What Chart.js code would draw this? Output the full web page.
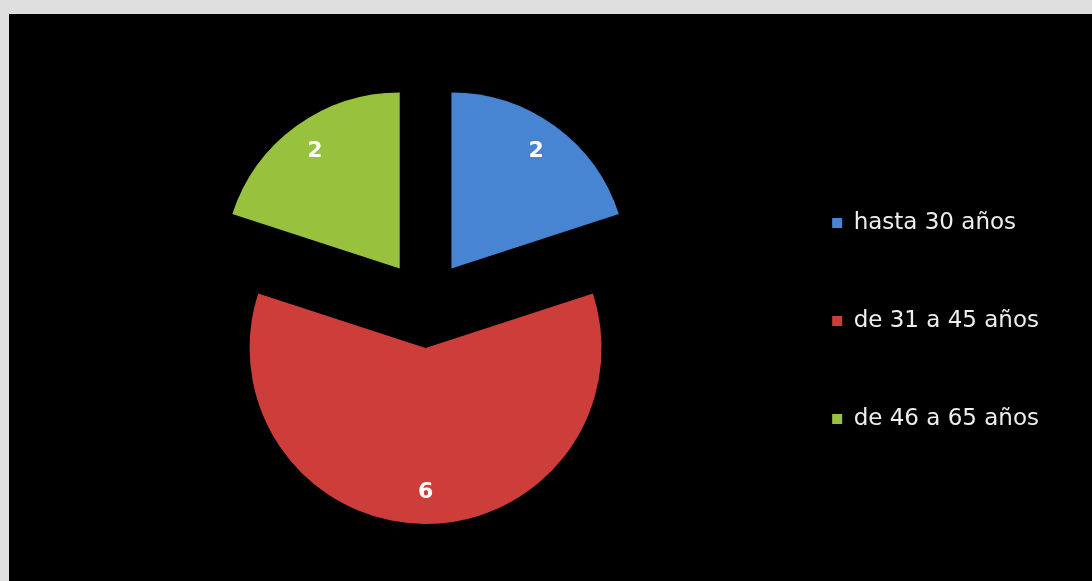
<!DOCTYPE html>
<html>
<head>
<meta charset="utf-8">
<title>Edades</title>
<script src="https://cdn.jsdelivr.net/npm/chart.js@4.4.1/dist/chart.umd.min.js"></script>
<style>
  body {
    margin: 0;
    background: #dedede;
  }
  #frame {
    position: absolute;
    left: 9px;
    top: 14px;
    width: 1083px;
    height: 567px;
    background: #000;
  }
</style>
</head>
<body>
<div id="frame">
  <canvas id="myChart" width="1083" height="567"></canvas>
</div>
<script>
// age groups and how many people fall in each
const categories = ['hasta 30 años', 'de 31 a 45 años', 'de 46 a 65 años'];
const counts = [2, 6, 2];
const sliceColors = ['#4784d2', '#cd3e3a', '#98c23e'];

// how far every slice is pulled away from the middle (px)
const explode = 44;

// draws the slices pushed out along their middle angle
const explodePlugin = {
  id: 'explode',
  beforeDatasetDraw: function(chart, args) {
    const ctx = chart.ctx;
    args.meta.data.forEach(function(arc) {
      const mid = (arc.startAngle + arc.endAngle) / 2;
      ctx.save();
      ctx.translate(Math.cos(mid) * explode, Math.sin(mid) * explode);
      arc.draw(ctx);
      ctx.restore();
    });
    return false;
  }
};

// value labels inside each slice
const valueLabels = {
  id: 'valueLabels',
  afterDatasetsDraw: function(chart) {
    const ctx = chart.ctx;
    const meta = chart.getDatasetMeta(0);
    ctx.save();
    ctx.font = 'bold 22px "DejaVu Sans"';
    ctx.fillStyle = '#ffffff';
    ctx.textAlign = 'center';
    ctx.textBaseline = 'middle';
    meta.data.forEach(function(arc, i) {
      const mid = (arc.startAngle + arc.endAngle) / 2;
      const dist = explode + arc.outerRadius * 0.82;
      ctx.fillText(String(counts[i]), arc.x + Math.cos(mid) * dist, arc.y + Math.sin(mid) * dist);
    });
    ctx.restore();
  }
};

const ctx = document.getElementById('myChart').getContext('2d');
const myChart = new Chart(ctx, {
  type: 'pie',
  data: {
    labels: categories,
    datasets: [{
      data: counts,
      backgroundColor: sliceColors,
      borderWidth: 0,
      radius: 176
    }]
  },
  options: {
    responsive: false,
    animation: false,
    events: [],
    devicePixelRatio: 1,
    layout: {
      padding: { left: 85, right: 43, top: 13, bottom: 0 }
    },
    plugins: {
      tooltip: { enabled: false },
      legend: {
        position: 'right',
        title: {
          display: true,
          text: '',
          font: { size: 16 },
          padding: { top: 6, bottom: 9 }
        },
        labels: {
          boxWidth: 10,
          boxHeight: 10,
          padding: 75,
          color: '#eeeeee',
          font: { family: '"DejaVu Sans"', size: 23 }
        }
      }
    }
  },
  plugins: [explodePlugin, valueLabels]
});
</script>
</body>
</html>
